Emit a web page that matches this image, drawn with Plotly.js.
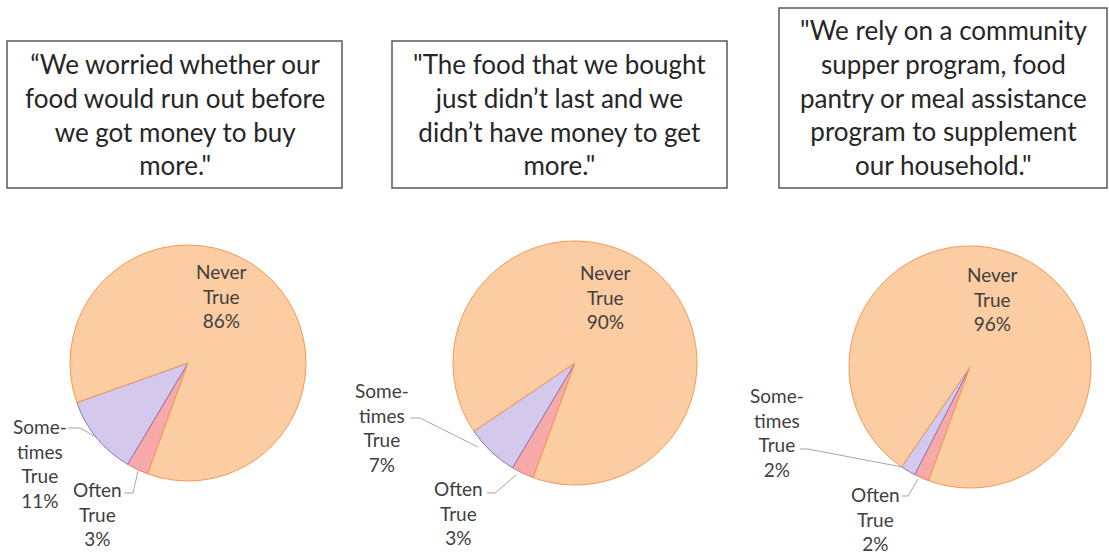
<!DOCTYPE html>
<html>
<head>
<meta charset="utf-8">
<script src="https://cdn.plot.ly/plotly-3.0.1.min.js"></script>
<style>
  html, body { margin: 0; padding: 0; background: #fff; }
  #chart { width: 1109px; height: 554px; }
</style>
</head>
<body>
<div id="chart"></div>
<script>
// survey answers, in the order Excel drew them (clockwise from the bottom)
var categories = ["Often True", "Sometimes True", "Never True"];
var categoryLines = ["Often<br>True", "Some-<br>times<br>True", "Never<br>True"];
var worriedFood = [3, 11, 86];
var foodDidntLast = [3, 7, 90];
var relyOnPrograms = [2, 2, 96];

var quotes = [
  "\u201cWe worried whether our<br>food would run out before<br>we got money to buy<br>more.\"",
  "\"The food that we bought<br>just didn\u2019t last and we<br>didn\u2019t have money to get<br>more.\"",
  "\"We rely on a community<br>supper program, food<br>pantry or meal assistance<br>program to supplement<br>our household.\""
];

var W = 1109, H = 554;
function px(x) { return x / W; }
function py(y) { return 1 - y / H; }

var fillColors = ["#F7A8A8", "#D4C9EC", "#FCCCA2"];
var lineColors = ["#E57B7D", "#8C74B6", "#F59A55"];
var font = "Lato, Carlito, Calibri, sans-serif";

var series = [worriedFood, foodDidntLast, relyOnPrograms];
// pie boxes in pixels: [left, right, top, bottom]
var pieBoxes = [[70, 306, 245, 481], [453, 697, 241, 485], [849, 1091, 246, 488]];

var data = series.map(function (vals, i) {
  var b = pieBoxes[i];
  return {
    type: "pie",
    labels: categories,
    values: vals,
    sort: false,
    direction: "clockwise",
    rotation: 200,
    textinfo: "none",
    hoverinfo: "label+percent",
    marker: { colors: fillColors, line: { color: lineColors, width: 1 } },
    domain: { x: [px(b[0]), px(b[1])], y: [py(b[3]), py(b[2])] },
    showlegend: false
  };
});

// label centres [often, sometimes, never] in pixels
var labelPos = [
  [[97, 514], [40, 463], [221, 296]],
  [[458, 513], [382, 427], [605, 297]],
  [[875, 519], [777, 432], [992, 299]]
];
// leader lines (polyline points, pixels) for often and sometimes
var leaders = [
  [[[124, 493], [133, 493], [138, 471]], [[68, 428], [80, 428], [96, 437]]],
  [[[487, 493], [495, 493], [516, 475]], [[410, 418], [420, 418], [478, 447]]],
  [[[902, 496], [908, 496], [918, 479]], [[800, 449], [808, 449], [902, 467]]]
];

var annotations = [];
var shapes = [];

series.forEach(function (vals, i) {
  for (var k = 0; k < categories.length; k++) {
    annotations.push({
      xref: "paper", yref: "paper",
      x: px(labelPos[i][k][0]), y: py(labelPos[i][k][1]),
      xanchor: "center", yanchor: "middle",
      text: categoryLines[k] + "<br>" + vals[k] + "%",
      showarrow: false,
      font: { family: font, size: 19, color: "#404040" }
    });
  }
  leaders[i].forEach(function (pts) {
    var d = pts.map(function (p, j) {
      return (j ? "L" : "M") + px(p[0]) + "," + py(p[1]);
    }).join(" ");
    shapes.push({ type: "path", xref: "paper", yref: "paper", path: d,
      line: { color: "#A6A6A6", width: 1 } });
  });
});

// quote boxes [left, right, top, bottom] in pixels
var quoteBoxes = [[7, 342, 41, 188], [392, 727, 41, 188], [779, 1107, 8, 188]];
quoteBoxes.forEach(function (b, i) {
  shapes.push({
    type: "rect", xref: "paper", yref: "paper",
    x0: px(b[0]), x1: px(b[1]), y0: py(b[3]), y1: py(b[2]),
    line: { color: "#595959", width: 1.5 }, fillcolor: "rgba(0,0,0,0)"
  });
  annotations.push({
    xref: "paper", yref: "paper",
    x: px((b[0] + b[1]) / 2), y: py((b[2] + b[3]) / 2),
    xanchor: "center", yanchor: "middle",
    text: quotes[i], showarrow: false,
    font: { family: font, size: 26, color: "#262626" }
  });
});

var layout = {
  width: W, height: H,
  margin: { l: 0, r: 0, t: 0, b: 0 },
  paper_bgcolor: "#fff",
  annotations: annotations,
  shapes: shapes
};

Plotly.newPlot("chart", data, layout, { displayModeBar: false, staticPlot: true });
</script>
</body>
</html>
